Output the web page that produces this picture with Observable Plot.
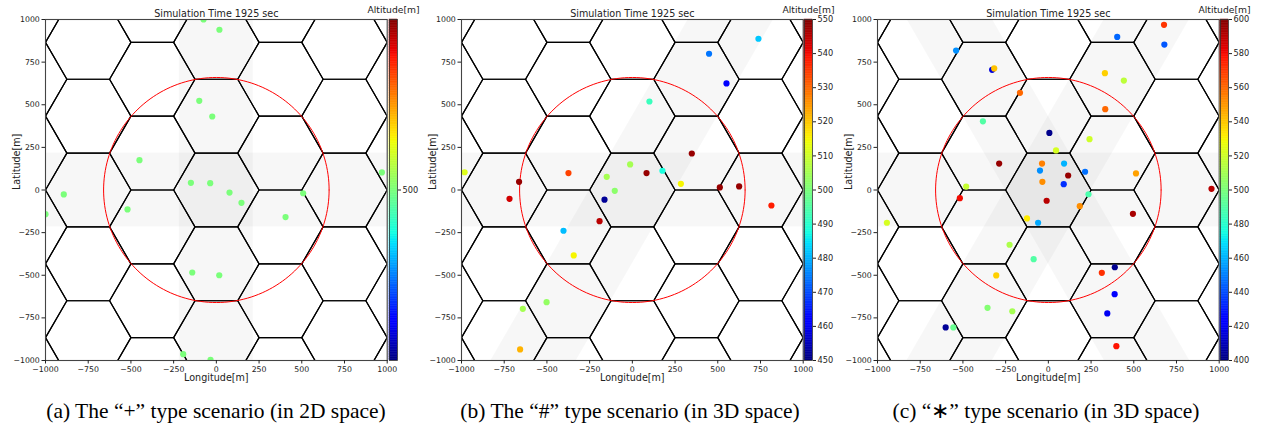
<!DOCTYPE html>
<html><head><meta charset="utf-8">
<script src="https://cdn.jsdelivr.net/npm/d3@7"></script>
<script src="https://cdn.jsdelivr.net/npm/@observablehq/plot@0.6"></script>
<style>
body{margin:0;background:#fff;}
#root{position:relative;width:1266px;height:430px;overflow:hidden;font-family:"DejaVu Sans",sans-serif;}
#root svg{position:absolute;top:0;overflow:visible;}
.cap{position:absolute;top:401px;line-height:21px;font-family:"Liberation Serif","Times New Roman",serif;font-size:21.5px;white-space:nowrap;transform:translateX(-50%);color:#000;}
</style></head><body><div id="root"></div>
<script>
// ---------- data ----------
const xTicks = [-1000, -750, -500, -250, 0, 250, 500, 750, 1000];
const yTicks = [-1000, -750, -500, -250, 0, 250, 500, 750, 1000];
const plotTitle = "Simulation Time 1925 sec";
const xLabel = "Longitude[m]";
const yLabel = "Latitude[m]";
const barLabel = "Altitude[m]";
const captions = [
  "(a) The “+” type scenario (in 2D space)",
  "(b) The “#” type scenario (in 3D space)",
  "(c) “∗” type scenario (in 3D space)"
];
const cellRadius = 250;     // hexagon circumradius [m]
const coverageRadius = 660; // red circle radius [m]

// (a) "+" scenario, all at 500 m
const aLon = [-75, 18, -100, -24, -450, -149, -36, 969, -893, 508, 77, 147, -1000, -520, 405, -141, 17, -194, -34];
const aLat = [1000, 940, 523, 431, 175, 42, 40, 103, -26, -19, -15, -75, -142, -114, -159, -484, -500, -963, -996];
const aAlt = [500, 500, 500, 500, 500, 500, 500, 500, 500, 500, 500, 500, 500, 500, 500, 500, 500, 500, 500];
const aBarTicks = [500];

// (b) "#" scenario
const bLon = [738, 449, 551, 100, 348, -982, -663, -374, -13, -150, 83, 176, 284, 512, 625, -103, -163, -719, 814, -192, -403, -343, -502, -641, -657];
const bLat = [887, 799, 625, 519, 214, 104, 48, 99, 150, 77, 99, 113, 36, 15, 21, -5, -57, -52, -91, -183, -239, -384, -658, -697, -935];
const bAlt = [482, 474, 462, 492, 548, 512, 548, 534, 505, 505, 548, 488, 515, 548, 548, 502, 452, 543, 538, 545, 481, 515, 503, 505, 522];
const bBarTicks = [450, 460, 470, 480, 490, 500, 510, 520, 530, 540, 550];

// (c) "*" scenario
const cLon = [677, 403, 679, -540, -329, -317, 331, 442, -166, 333, -383, 6, 241, 45, -288, -37, 92, -49, 215, 513, 116, -35, 90, -481, 955, 235, -518, -10, 184, 495, -945, -125, -60, -227, -86, -305, 313, 389, 388, 345, -356, -211, -601, -556, 398];
const cLat = [969, 898, 853, 818, 705, 713, 685, 642, 570, 474, 403, 335, 298, 232, 155, 155, 155, 114, 107, 97, 85, 48, 34, 20, 7, -25, -48, -63, -95, -140, -192, -167, -192, -321, -406, -501, -486, -453, -611, -724, -691, -711, -806, -806, -916];
const cAlt = [571, 445, 442, 453, 416, 541, 538, 516, 560, 560, 490, 402, 520, 522, 596, 555, 460, 453, 447, 548, 596, 552, 434, 518, 590, 488, 580, 590, 552, 593, 522, 532, 458, 512, 490, 538, 572, 403, 424, 420, 502, 510, 404, 495, 578];
const cBarTicks = [400, 420, 440, 460, 480, 500, 520, 540, 560, 580, 600];

// ---------- jet colormap ----------
const jetR = [[0, 0], [0.35, 0], [0.66, 1], [0.89, 1], [1, 0.5]];
const jetG = [[0, 0], [0.125, 0], [0.375, 1], [0.64, 1], [0.91, 0], [1, 0]];
const jetB = [[0, 0.5], [0.11, 1], [0.34, 1], [0.65, 0], [1, 0]];
function seg(p, t) {
  t = Math.max(0, Math.min(1, t));
  for (let i = 1; i < p.length; i++) {
    if (t <= p[i][0]) {
      const [t0, v0] = p[i - 1], [t1, v1] = p[i];
      return v0 + (v1 - v0) * (t - t0) / (t1 - t0);
    }
  }
  return p[p.length - 1][1];
}
const jet = t => `rgb(${Math.round(255 * seg(jetR, t))},${Math.round(255 * seg(jetG, t))},${Math.round(255 * seg(jetB, t))})`;

// ---------- geometry helpers ----------
const S3 = Math.sqrt(3);
const H = cellRadius * S3 / 2;
const T30 = 1 / S3;
const hexPts = [];
let hid = 0;
for (let i = -4; i <= 4; i++) {
  for (let j = -4; j <= 4; j++) {
    const cx = 1.5 * cellRadius * i;
    const cy = S3 * cellRadius * j + (Math.abs(i) % 2 === 1 ? H : 0);
    for (let k = 0; k <= 6; k++) {
      const a = (k % 6) * Math.PI / 3;
      hexPts.push({id: hid, x: cx + cellRadius * Math.cos(a), y: cy + cellRadius * Math.sin(a)});
    }
    hid++;
  }
}
const circlePts = d3.range(0, 361, 2).map(d => ({x: coverageRadius * Math.cos(d * Math.PI / 180), y: coverageRadius * Math.sin(d * Math.PI / 180)}));

const bandStyle = {fill: "#000", fillOpacity: 0.03, clip: true};
function bandMark(kind) {
  if (kind === "h") return Plot.rect([{x1: -1200, x2: 1200, y1: -H, y2: H}], {x1: "x1", x2: "x2", y1: "y1", y2: "y2", ...bandStyle});
  if (kind === "v") return Plot.rect([{x1: -H, x2: H, y1: -1200, y2: 1200}], {x1: "x1", x2: "x2", y1: "y1", y2: "y2", ...bandStyle});
  const s = kind === "d60" ? 1 : -1;
  return Plot.areaX([{y: -1400}, {y: 1400}], {y: "y", x1: d => s * d.y * T30 - cellRadius, x2: d => s * d.y * T30 + cellRadius, ...bandStyle});
}
const fmt = d => d < 0 ? "\u2212" + Math.abs(d) : String(d);

const root = document.getElementById("root");
const OX = [0, 415.7, 831.7];

function panel(idx, lon, lat, alt, domain, barTicks, bands) {
  const ox = OX[idx];
  const colorOpt = {type: "linear", domain, interpolate: jet};
  const pts = lon.map((x, k) => ({x, y: lat[k], a: alt[k]}));
  const main = Plot.plot({
    width: 390, height: 390,
    marginLeft: 45, marginRight: 3.3, marginTop: 19, marginBottom: 30,
    style: {background: "transparent", fontFamily: "DejaVu Sans", fontSize: "7.8px", overflow: "visible"},
    x: {domain: [-1000, 1000]},
    y: {domain: [-1000, 1000]},
    color: colorOpt,
    marks: [
      ...bands.map(bandMark),
      Plot.line(hexPts, {x: "x", y: "y", z: "id", stroke: "#000", strokeWidth: 1.2, clip: true}),
      Plot.line(circlePts, {x: "x", y: "y", stroke: "#ff0000", strokeWidth: 1, clip: true}),
      Plot.dot(pts, {x: "x", y: "y", fill: "a", r: 3.1, clip: true}),
      Plot.frame({stroke: "#444", strokeWidth: 1.1}),
      Plot.axisX(xTicks, {anchor: "bottom", tickSize: 3.5, tickPadding: 2, tickFormat: fmt, label: null, color: "#222"}),
      Plot.axisY(yTicks, {anchor: "left", tickSize: 3.5, tickPadding: 2.2, tickFormat: fmt, label: null, color: "#222"}),
      Plot.text([plotTitle], {text: d => d, frameAnchor: "top", dy: -9, fontSize: 9.6, fill: "#222"}),
      Plot.text([xLabel], {text: d => d, frameAnchor: "bottom", dy: 20, fontSize: 9.6, fill: "#222"}),
      Plot.text([yLabel], {text: d => d, frameAnchor: "left", dx: -29, rotate: -90, fontSize: 9.6, fill: "#222"})
    ]
  });
  main.style.left = ox + "px";
  root.appendChild(main);

  const N = 200;
  const [lo, hi] = domain;
  const steps = d3.range(N).map(k => ({x1: 0, x2: 1, y1: lo + (hi - lo) * k / N, y2: lo + (hi - lo) * (k + 1) / N, v: lo + (hi - lo) * (k + 0.5) / N}));
  const bar = Plot.plot({
    width: 82, height: 390,
    marginLeft: 30, marginRight: 44, marginTop: 19, marginBottom: 30,
    style: {background: "transparent", fontFamily: "DejaVu Sans", fontSize: "8.2px", overflow: "visible"},
    x: {domain: [0, 1], axis: null},
    y: {domain},
    color: colorOpt,
    marks: [
      Plot.rect(steps, {x1: "x1", x2: "x2", y1: "y1", y2: "y2", fill: "v", stroke: "v", strokeWidth: 0.5, inset: 0}),
      Plot.frame({stroke: "#333", strokeWidth: 0.8}),
      Plot.axisY(barTicks, {anchor: "right", tickSize: 3, tickPadding: 2, tickFormat: d => String(d), label: null, color: "#222"}),
      Plot.text([barLabel], {text: d => d, frameAnchor: "top", dy: -13, fontSize: 9.2, fill: "#222"})
    ]
  });
  bar.style.left = (ox + 358.5) + "px";
  root.appendChild(bar);

  const cap = document.createElement("div");
  cap.className = "cap";
  cap.textContent = captions[idx];
  cap.style.left = [216, 630, 1046][idx] + "px";
  root.appendChild(cap);
}

panel(0, aLon, aLat, aAlt, [499.5, 500.5], aBarTicks, ["h", "v"]);
panel(1, bLon, bLat, bAlt, [450, 550], bBarTicks, ["h", "d60"]);
panel(2, cLon, cLat, cAlt, [400, 600], cBarTicks, ["h", "d60", "d120"]);
</script></body></html>
